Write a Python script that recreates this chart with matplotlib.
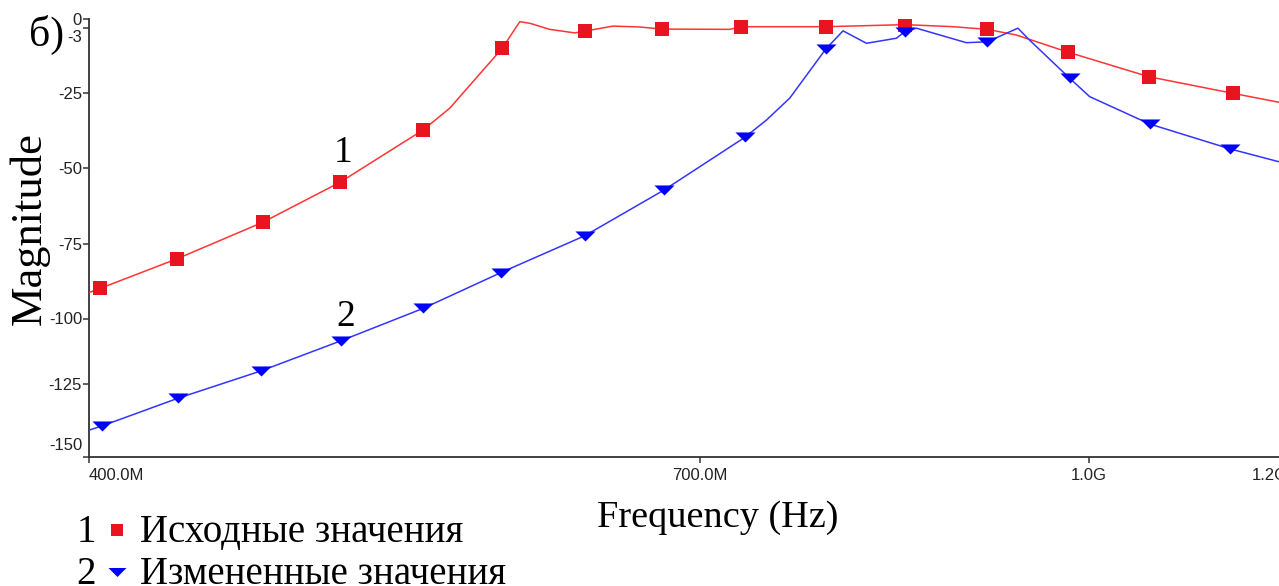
import numpy as np
import matplotlib
matplotlib.use("Agg")
import matplotlib.pyplot as plt
from matplotlib.path import Path
from matplotlib.lines import Line2D
from matplotlib.ticker import FixedLocator, NullLocator

# Frequency response, original component values (MHz, dB)
freq_orig = [400.0, 404.1, 433.5, 469.0, 503.4, 543.3, 556.7, 584.1, 593.6, 599.1,
             610.1, 624.3, 630.0, 646.5, 662.6, 675.9, 719.5, 726.8, 785.6, 845.1,
             882.8, 911.0, 935.5, 980.9, 1056.4, 1140.8, 1200.0]
mag_orig = [-91.3, -89.9, -80.0, -67.9, -54.8, -37.3, -30.0, -9.8, -0.8, -1.35,
            -3.4, -4.6, -4.0, -2.3, -2.6, -3.3, -3.4, -2.5, -2.5, -1.8,
            -2.5, -3.4, -5.3, -11.1, -19.4, -25.0, -28.6]
marks_orig = [1, 2, 3, 4, 5, 7, 12, 15, 17, 18, 19, 21, 23, 24, 25]

# Frequency response, modified component values (MHz, dB)
freq_mod = [400.0, 404.7, 433.9, 468.3, 503.9, 543.3, 583.4, 630.0, 677.5, 729.5,
            744.1, 760.2, 785.6, 798.2, 815.5, 838.2, 844.6, 853.7, 893.7, 911.0,
            936.9, 946.9, 982.4, 1000.5, 1057.0, 1138.1, 1200.0]
mag_mod = [-140.8, -139.4, -129.9, -120.0, -108.5, -96.6, -84.6, -72.3, -57.3, -39.8,
           -34.0, -26.6, -10.1, -3.9, -8.1, -6.4, -4.2, -3.0, -7.9, -7.6,
           -3.0, -7.0, -19.9, -26.1, -35.3, -43.7, -48.8]
marks_mod = [1, 2, 3, 4, 5, 6, 7, 8, 9, 12, 16, 19, 22, 24, 25]

y_ticks = [0, -3, -25, -50, -75, -100, -125, -150]
y_tick_labels = ["0", "-3", "-25", "-50", "-75", "-100", "-125", "-150"]
x_ticks = [400, 700, 1000, 1200]
x_tick_labels = ["400.0M", "700.0M", "1.0G", "1.2G"]
series_names = ["Исходные значения", "Измененные значения"]

# The magnitude axis of the plot is unevenly graduated: breakpoints of the scale
scale_values = np.array([-150, -125, -100, -75, -50, -25, 0], float)
scale_units = np.array([0.0, 73.0, 138.5, 213.0, 289.3, 363.7, 437.7])


def _piecewise(v, xs, ys):
    v = np.asarray(v, float)
    out = np.interp(v, xs, ys)
    lo_slope = (ys[1] - ys[0]) / (xs[1] - xs[0])
    hi_slope = (ys[-1] - ys[-2]) / (xs[-1] - xs[-2])
    out = np.where(v < xs[0], ys[0] + (v - xs[0]) * lo_slope, out)
    out = np.where(v > xs[-1], ys[-1] + (v - xs[-1]) * hi_slope, out)
    return out


def mag_forward(v):
    return _piecewise(v, scale_values, scale_units)


def mag_inverse(u):
    return _piecewise(u, scale_units, scale_values)


SERIF = "Liberation Serif"
SANS = "Liberation Sans"
RED_LINE = "#ff3434"
RED_MARK = "#e8141f"
BLUE_LINE = "#3434ff"
BLUE_MARK = "#0000ff"
AXIS_COL = "#333333"
TICK_FS = 12

W, H = 1279, 586
fig = plt.figure(figsize=(W / 100, H / 100), dpi=100)
ax = fig.add_axes([89 / W, (H - 457) / H, (1288 - 89) / W, (457 - 19.3) / H])

ax.set_xscale("log")
ax.set_yscale("function", functions=(mag_forward, mag_inverse))
ax.set_xlim(400, 1200)
ax.set_ylim(-150, 0)

# flat downward triangle marker
tri = Path([(-1.0, 0.5), (1.0, 0.5), (0.0, -0.5), (-1.0, 0.5)], closed=True)

ax.plot(freq_orig, mag_orig, color=RED_LINE, lw=1.1, marker="s", markevery=marks_orig,
        markersize=9.5, markerfacecolor=RED_MARK, markeredgecolor=RED_MARK,
        markeredgewidth=0, zorder=3)
ax.plot(freq_mod, mag_mod, color=BLUE_LINE, lw=1.1, marker=tri, markevery=marks_mod,
        markersize=14.5, markerfacecolor=BLUE_MARK, markeredgecolor=BLUE_MARK,
        markeredgewidth=0, zorder=3)

# axes styling
for side in ("top", "right"):
    ax.spines[side].set_visible(False)
for side in ("left", "bottom"):
    ax.spines[side].set_color(AXIS_COL)
    ax.spines[side].set_linewidth(1.3)

ax.xaxis.set_major_locator(FixedLocator(x_ticks))
ax.xaxis.set_minor_locator(NullLocator())
ax.set_xticklabels(x_tick_labels)
ax.yaxis.set_major_locator(FixedLocator(y_ticks))
ax.yaxis.set_minor_locator(NullLocator())
shown = [("" if t in ("-3", "-150") else t) for t in y_tick_labels]
ax.set_yticklabels(shown)
ax.tick_params(axis="both", direction="out", length=4, width=1.1, color=AXIS_COL,
               labelsize=TICK_FS, labelcolor="#222222")
ax.tick_params(axis="y", pad=1)
ax.tick_params(axis="x", pad=4)
for lab in ax.get_xticklabels() + ax.get_yticklabels():
    lab.set_fontfamily(SANS)
xl = ax.get_xticklabels()
xl[0].set_ha("left")
xl[-1].set_ha("right")

# labels nudged away from neighbouring ticks
ax.annotate("-3", xy=(0, -3), xycoords=("axes fraction", "data"), xytext=(-5, -7),
            textcoords="offset points", ha="right", va="center", fontsize=TICK_FS,
            family=SANS, color="#222222")
ax.annotate("-150", xy=(0, -150), xycoords=("axes fraction", "data"), xytext=(-5, 8),
            textcoords="offset points", ha="right", va="center", fontsize=TICK_FS,
            family=SANS, color="#222222")

# curve numbers
ax.text(505, -45.1, "1", fontsize=27, family=SERIF, ha="center", va="center")
ax.text(506, -99.5, "2", fontsize=27, family=SERIF, ha="center", va="center")

# panel letter and axis titles
fig.text(47 / W, 1 - 35 / H, "б)", fontsize=30, family=SERIF, ha="center", va="center")
fig.text(30 / W, 1 - 229 / H, "Magnitude", fontsize=32, family=SERIF, rotation=90,
         ha="center", va="center")
fig.text(718 / W, 1 - 518 / H, "Frequency (Hz)", fontsize=27.5, family=SERIF,
         ha="center", va="center")

# legend drawn beneath the axis
leg_rows = [(542, "1", "s", RED_MARK, 9.0), (584, "2", tri, BLUE_MARK, 13.0)]
for (base_y, num, mk, col, ms), name in zip(leg_rows, series_names):
    fy = 1 - base_y / H
    fig.text(86 / W, fy, num, fontsize=28, family=SERIF, ha="center", va="baseline")
    fig.add_artist(Line2D([117 / W], [fy + 12 / H], transform=fig.transFigure,
                          marker=mk, markersize=ms, color=col, markeredgewidth=0,
                          linestyle="none"))
    fig.text(140 / W, fy, name, fontsize=28, family=SERIF, ha="left", va="baseline")

fig.savefig("out.png", dpi=100)
